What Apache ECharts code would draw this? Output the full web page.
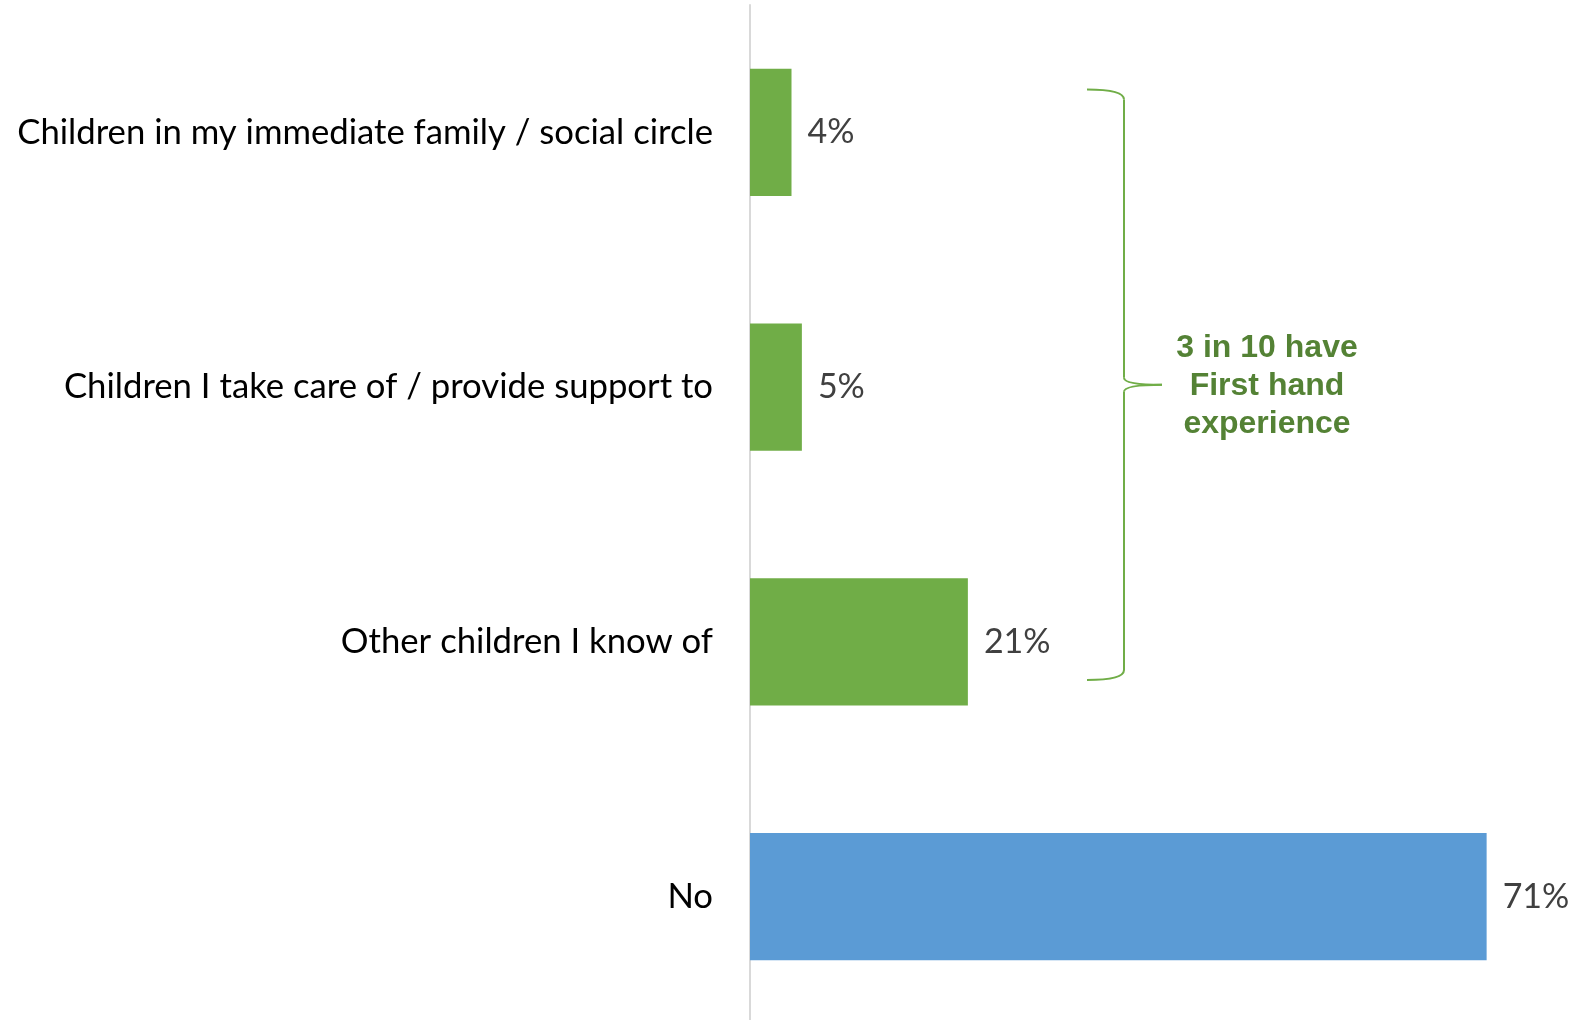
<!DOCTYPE html>
<html>
<head>
<meta charset="utf-8">
<script src="https://cdn.jsdelivr.net/npm/echarts@6/dist/echarts.min.js"></script>
<style>
  html, body { margin: 0; padding: 0; background: #fff; }
  #chart { width: 1573px; height: 1020px; }
</style>
</head>
<body>
<div id="chart"></div>
<script>
// Survey answers, top to bottom
const categories = [
  'Children in my immediate family / social circle',
  'Children I take care of / provide support to',
  'Other children I know of',
  'No'
];
const shares = [4, 5, 21, 71];
const firstHand = [true, true, true, false];
const calloutLines = ['3 in 10 have', 'First hand', 'experience'];

const GREEN = '#70AD47';
const BLUE = '#5B9BD5';
const LABEL_FONT = 'Lato, "Open Sans", sans-serif';

const chart = echarts.init(document.getElementById('chart'), null, { renderer: 'canvas' });

chart.setOption({
  animation: false,
  backgroundColor: '#ffffff',
  grid: {
    left: 750, top: 5, width: 830, height: 1019,
    containLabel: false,
    outerBoundsMode: 'none'
  },
  xAxis: {
    type: 'value',
    min: 0,
    max: 80,
    show: false
  },
  yAxis: {
    type: 'category',
    data: categories,
    inverse: true,
    axisLine: { show: true, lineStyle: { color: '#D9D9D9', width: 2 } },
    axisTick: { show: false },
    axisLabel: {
      margin: 37,
      color: '#000000',
      fontFamily: LABEL_FONT,
      fontSize: 34.7
    }
  },
  series: [{
    type: 'bar',
    data: shares,
    barCategoryGap: '50%',
    itemStyle: {
      color: p => firstHand[p.dataIndex] ? GREEN : BLUE
    },
    label: {
      show: true,
      position: 'right',
      distance: 16,
      formatter: p => p.value + '%',
      color: '#404040',
      fontFamily: LABEL_FONT,
      fontSize: 34
    }
  }]
});

// Curly brace grouping the first-hand answers, with its callout text
const yTop = chart.convertToPixel({ yAxisIndex: 0 }, categories[0]) - 43;
const yBot = chart.convertToPixel({ yAxisIndex: 0 }, categories[2]) + 38;
const yMid = (yTop + yBot) / 2;
const xEnd = 1087, xSpine = 1124, xTip = 1162;

const braceStyle = { fill: null, stroke: GREEN, lineWidth: 2 };
const curve = (x1, y1, cpx, cpy, x2, y2) => ({
  type: 'bezierCurve',
  shape: { x1, y1, cpx1: cpx, cpy1: cpy, x2, y2 },
  style: braceStyle
});
const seg = (x1, y1, x2, y2) => ({
  type: 'line',
  shape: { x1, y1, x2, y2 },
  style: braceStyle
});

chart.setOption({
  graphic: [
    {
      type: 'group',
      children: [
        curve(xEnd, yTop, xSpine, yTop, xSpine, yTop + 10),
        seg(xSpine, yTop + 10, xSpine, yMid - 7),
        curve(xSpine, yMid - 7, xSpine, yMid, xTip, yMid),
        curve(xTip, yMid, xSpine, yMid, xSpine, yMid + 7),
        seg(xSpine, yMid + 7, xSpine, yBot - 10),
        curve(xSpine, yBot - 10, xSpine, yBot, xEnd, yBot)
      ]
    },
    {
      type: 'text',
      x: 1267,
      y: yMid + 2,
      style: {
        text: calloutLines.join('\n'),
        fill: '#548235',
        font: 'bold 32px "Liberation Sans", Arial, sans-serif',
        lineHeight: 38,
        align: 'center',
        verticalAlign: 'middle'
      }
    }
  ]
});
</script>
</body>
</html>
